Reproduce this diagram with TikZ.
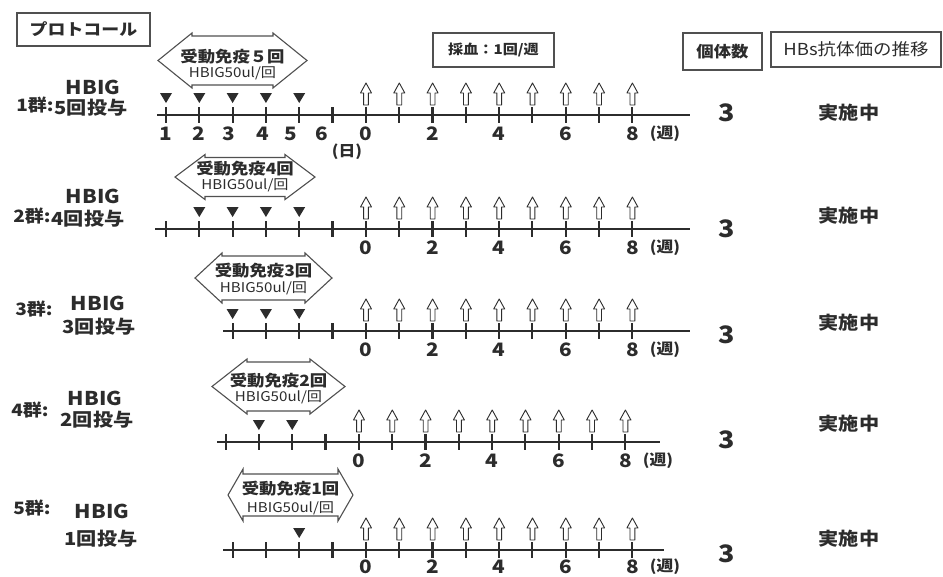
\documentclass[tikz,border=0pt]{standalone}
\usepackage{fontspec}
\setmainfont{Noto Sans CJK JP}[FakeStretch=1.12]
\definecolor{ink}{HTML}{2c2c2c}
\definecolor{frame}{HTML}{505050}
\newcommand{\fsz}[1]{\fontsize{#1}{#1}\selectfont}
\tikzset{
  txt/.style={inner sep=0pt, text=ink},
  hbox/.style={draw=frame, line width=1.3pt, fill=white, inner sep=0pt},
  tline/.style={line width=2.8pt, draw=ink},
  tk/.style={line width=2.2pt, draw=ink},
  oarr/.style={draw=ink, line width=0.9pt, fill=white, line join=round},
  dbl/.style={draw=frame, line width=1.1pt, fill=white, line join=miter},
  num/.style={txt, font=\bfseries\fsz{18.5}},
  unit/.style={txt, font=\bfseries\fsz{15}},
  grp/.style={txt, font=\bfseries\fsz{17}},
  hb/.style={txt, font=\bfseries\fsz{19}},
  dose/.style={txt, font=\bfseries\fsz{18}},
  cnt/.style={txt, font=\bfseries\fsz{24}},
  stat/.style={txt, font=\bfseries\fsz{18}},
  ar1/.style={txt, font=\bfseries\fsz{15.5}},
  ar2/.style={txt, font=\fsz{13.5}}
}
% double-headed arrow outline: cx, cy, length, head height, head length, extend
\newcommand{\dblarrow}[6]{%
  \draw[dbl] ({#1-#3/2},{#2}) -- ({#1-#3/2+#5},{#2-#4/2}) -- ({#1-#3/2+#5},{#2-#4/2+#6})
    -- ({#1+#3/2-#5},{#2-#4/2+#6}) -- ({#1+#3/2-#5},{#2-#4/2}) -- ({#1+#3/2},{#2})
    -- ({#1+#3/2-#5},{#2+#4/2}) -- ({#1+#3/2-#5},{#2+#4/2-#6})
    -- ({#1-#3/2+#5},{#2+#4/2-#6}) -- ({#1-#3/2+#5},{#2+#4/2}) -- cycle;}
% timeline row: name, y, xstart, xend, shift, first day tick, triangle list, label offset
\newcommand{\tlrow}[8]{%
  \coordinate (#1s) at (#3,#2);
  \coordinate (#1e) at (#4,#2);
  \draw[tline] (#1s) -- (#1e);
  \foreach \k in {#6,...,15} {%
    \pgfmathsetmacro\xx{166+33.3*(\k-1)+#5}
    \draw[tk] (\xx,{#2-8}) -- (\xx,{#2+8});}
  \foreach \k in {#7} {%
    \pgfmathsetmacro\xx{166+33.3*(\k-1)+#5}
    \fill[ink] ({\xx-6},{#2-22}) -- ({\xx+6},{#2-22}) -- (\xx,{#2-12}) -- cycle;}
  \foreach \w in {0,...,8} {%
    \pgfmathsetmacro\xx{366+33.3*\w+#5}
    \draw[oarr] (\xx,{#2-32}) -- ({\xx+5.5},{#2-22}) -- ({\xx+2.4},{#2-22}) -- ({\xx+2.4},{#2-10})
      -- ({\xx-2.4},{#2-10}) -- ({\xx-2.4},{#2-22}) -- ({\xx-5.5},{#2-22}) -- cycle;}
  \foreach \w in {0,2,4,6,8} {%
    \pgfmathsetmacro\xx{366+33.3*\w+#5}
    \node[num] (#1w\w) at (\xx,{#2+#8}) {\w};}
  \node[unit] (#1wk) at ({665+#5},{#2+#8}) {(週)};
}
\begin{document}
\begin{tikzpicture}[x=1pt,y=-1pt]
\useasboundingbox (0,0) rectangle (943,576);
\fill[white] (0,0) rectangle (943,576);

% header boxes
\node[hbox, minimum width=133pt, minimum height=33pt, font=\bfseries\fsz{16}, text=ink] (proto) at (83.5,29.5) {プロトコール};
\node[hbox, minimum width=121pt, minimum height=34pt, font=\bfseries\fsz{13.5}, text=ink] (saiketsu) at (493.5,50) {採血：1回/週};
\node[hbox, minimum width=79pt, minimum height=37pt, font=\bfseries\fsz{15.5}, text=ink] (kotai) at (722.5,51.5) {個体数};
\node[hbox, minimum width=170pt, minimum height=35pt, font=\fsz{16.5}, text=ink] (hbs) at (856,49.5) {HBs抗体価の推移};

% ---- row 1
\dblarrow{232.5}{60.5}{149}{55}{34}{3}
\node[ar1] (a1t) at (232.5,57) {受動免疫５回};
\node[ar2] (a1b) at (232.5,73) {HBIG50ul/回};
\tlrow{r1}{115}{157}{690}{0}{1}{1,2,3,4,5}{19}
\foreach \d/\x in {1/166,2/199,3/229,4/263,5/291,6/322} {\node[num] (r1d\d) at (\x,134) {\d};}
\node[unit] (r1day) at (347,152) {(日)};
\node[grp] (g1) at (35,105) {1群:};
\node[hb] (h1) at (93,87) {HBIG};
\node[dose] (d1) at (91,108) {5回投与};
\node[cnt] (c1) at (727,113) {3};
\node[stat] (s1) at (849,113) {実施中};

% ---- row 2
\dblarrow{245}{177}{140}{45}{30}{3}
\node[ar1] (a2t) at (245,169) {受動免疫4回};
\node[ar2] (a2b) at (245,185) {HBIG50ul/回};
\tlrow{r2}{229}{155}{690}{0}{1}{2,3,4,5}{19}
\node[grp] (g2) at (32,216) {2群:};
\node[hb] (h2) at (93,196) {HBIG};
\node[dose] (d2) at (88,219) {4回投与};
\node[cnt] (c2) at (727,229) {3};
\node[stat] (s2) at (849,216) {実施中};

% ---- row 3
\dblarrow{263.5}{278}{137}{50}{27}{3}
\node[ar1] (a3t) at (263.5,271) {受動免疫3回};
\node[ar2] (a3b) at (263.5,288) {HBIG50ul/回};
\tlrow{r3}{331}{223}{690}{0}{3}{3,4,5}{19}
\node[grp] (g3) at (34,309) {3群:};
\node[hb] (h3) at (98,303) {HBIG};
\node[dose] (d3) at (99,327) {3回投与};
\node[cnt] (c3) at (727,335) {3};
\node[stat] (s3) at (849,323) {実施中};

% ---- row 4
\dblarrow{278.5}{386.5}{133}{55}{35}{3}
\node[ar1] (a4t) at (278.5,381) {受動免疫2回};
\node[ar2] (a4b) at (278.5,397) {HBIG50ul/回};
\tlrow{r4}{442}{217}{660}{-7}{3}{4,5}{19}
\node[grp] (g4) at (30,410) {4群:};
\node[hb] (h4) at (95,398) {HBIG};
\node[dose] (d4) at (97,420) {2回投与};
\node[cnt] (c4) at (727,440) {3};
\node[stat] (s4) at (849,424) {実施中};

% ---- row 5
\dblarrow{290.5}{495}{125}{52}{15}{5}
\node[ar1] (a5t) at (290.5,489) {受動免疫1回};
\node[ar2] (a5b) at (290.5,508) {HBIG50ul/回};
\tlrow{r5}{550}{223}{664}{0}{3}{5}{17}
\node[grp] (g5) at (32,508) {5群:};
\node[hb] (h5) at (102,511) {HBIG};
\node[dose] (d5) at (101,539) {1回投与};
\node[cnt] (c5) at (727,554) {3};
\node[stat] (s5) at (849,539) {実施中};
\end{tikzpicture}
\end{document}
